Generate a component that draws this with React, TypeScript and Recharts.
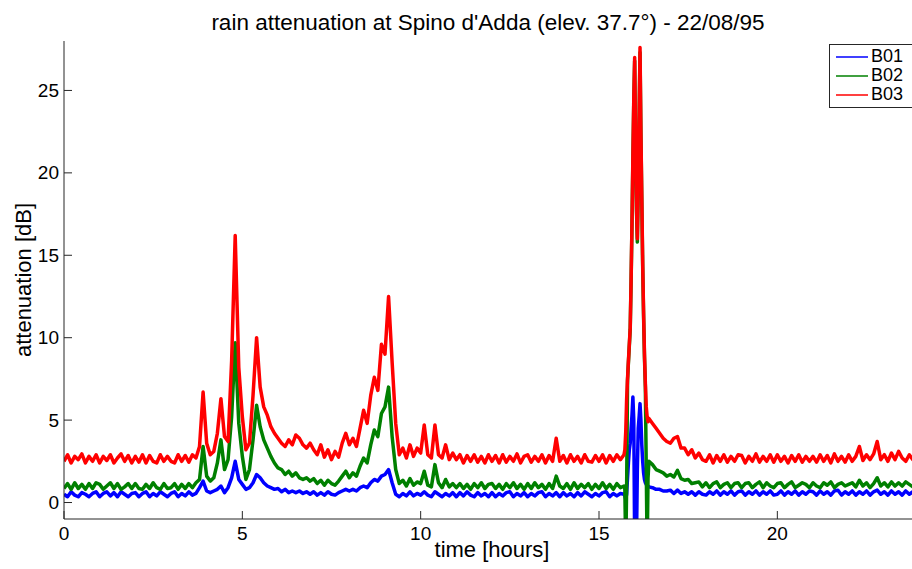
import React from 'react';
import { LineChart, Line, XAxis, YAxis, Legend } from 'recharts';

const FONT = '"Liberation Sans", Arial, Helvetica, sans-serif';
const AXIS = '#262626';

// one sample every 0.1 h (0 .. 24 h)
const TIME_GRID = Array.from({ length: 241 }, (_, i) => i / 10);

// B01 (blue)
const B01 = [
  0.5, 0.35, 0.65, 0.45, 0.35, 0.6, 0.5, 0.35, 0.55, 0.65,
  0.35, 0.55, 0.65, 0.4, 0.6, 0.35, 0.65, 0.5, 0.35, 0.55,
  0.6, 0.35, 0.55, 0.65, 0.35, 0.55, 0.4, 0.65, 0.5, 0.35,
  0.55, 0.65, 0.35, 0.55, 0.4, 0.65, 0.45, 0.55, 0.9, 1.3,
  0.7, 0.6, 0.7, 0.8, 1.0, 0.6, 0.9, 1.5, 2.5, 1.4,
  1.1, 0.8, 0.9, 1.2, 1.7, 1.5, 1.2, 1.0, 0.9, 0.8,
  0.85, 0.65, 0.8, 0.6, 0.7, 0.6, 0.7, 0.55, 0.65, 0.5,
  0.65, 0.45, 0.6, 0.45, 0.65, 0.5, 0.45, 0.6, 0.7, 0.8,
  0.7, 0.8, 0.7, 0.9, 1.0, 0.9, 1.2, 1.4, 1.3, 1.6,
  1.7, 2.0, 1.2, 0.5, 0.35, 0.55, 0.4, 0.65, 0.4, 0.55,
  0.45, 0.65, 0.45, 0.35, 0.65, 0.5, 0.35, 0.55, 0.4, 0.6,
  0.35, 0.6, 0.4, 0.65, 0.45, 0.35, 0.6, 0.4, 0.55, 0.35,
  0.6, 0.35, 0.55, 0.4, 0.6, 0.65, 0.35, 0.55, 0.4, 0.6,
  0.35, 0.55, 0.4, 0.6, 0.65, 0.35, 0.55, 0.4, 0.6, 0.35,
  0.6, 0.4, 0.55, 0.35, 0.6, 0.4, 0.65, 0.5, 0.35, 0.55,
  0.4, 0.6, 0.65, 0.35, 0.55, 0.4, 0.55, 0.5, 1.5, 4.5,
  -2.5, 4.5, 3.5, 1.2, 0.95, 0.9, 0.8, 0.8, 0.7, 0.7,
  0.75, 0.55, 0.75, 0.55, 0.65, 0.5, 0.65, 0.45, 0.65, 0.5,
  0.45, 0.65, 0.5, 0.7, 0.45, 0.65, 0.5, 0.7, 0.45, 0.65,
  0.7, 0.45, 0.65, 0.5, 0.7, 0.45, 0.65, 0.5, 0.7, 0.45,
  0.5, 0.7, 0.45, 0.65, 0.5, 0.7, 0.45, 0.65, 0.5, 0.7,
  0.65, 0.45, 0.7, 0.5, 0.65, 0.45, 0.7, 0.75, 0.45, 0.65,
  0.5, 0.7, 0.45, 0.65, 0.5, 0.7, 0.45, 0.65, 0.75, 0.5,
  0.65, 0.45, 0.7, 0.5, 0.65, 0.45, 0.7, 0.5, 0.65, 0.5,
  0.6,
];

// B02 (green)
const B02 = [
  0.85, 1.15, 0.8, 1.2, 0.85, 1.1, 0.8, 1.15, 0.85, 1.2,
  1.1, 0.8, 1.0, 1.2, 0.85, 1.15, 0.8, 0.95, 1.15, 0.85,
  1.15, 0.85, 0.8, 1.1, 0.85, 1.2, 0.9, 0.8, 1.15, 0.85,
  0.9, 1.15, 0.8, 1.1, 0.85, 1.15, 0.9, 1.2, 1.4, 3.4,
  1.6, 1.3, 1.5, 2.4, 3.8, 2.0, 2.6, 5.2, 9.7, 4.8,
  2.8, 1.4, 2.0, 3.8, 5.9, 4.6, 3.8, 3.3, 2.8, 2.4,
  2.1, 2.0, 1.7, 1.9, 1.6, 1.8, 1.5, 1.4, 1.5, 1.3,
  1.45, 1.15, 1.35, 1.05, 1.35, 1.15, 1.05, 1.3, 1.6, 1.9,
  1.5, 1.8, 1.6, 2.2, 2.7, 2.4, 3.5, 4.4, 4.0, 5.4,
  5.8, 7.0, 4.0, 2.0, 1.15, 1.35, 1.0, 1.45, 1.05, 1.25,
  1.15, 1.9, 1.05, 0.95, 2.3, 1.2, 0.9, 1.4, 0.95, 1.15,
  0.9, 1.15, 0.85, 1.1, 0.8, 1.15, 0.9, 1.2, 0.85, 1.1,
  1.15, 0.85, 1.1, 0.8, 1.15, 0.9, 1.2, 0.85, 1.1, 0.8,
  1.15, 0.85, 1.2, 0.9, 1.1, 0.8, 1.15, 0.85, 1.6, 1.0,
  0.85, 1.15, 0.8, 1.2, 0.85, 1.1, 0.9, 1.15, 0.8, 1.1,
  0.85, 1.2, 0.85, 1.1, 0.8, 1.15, 0.9, 1.0, 7.4, 13.4,
  26.8, 18.8, 18.3, 7.0, 2.5, 2.3, 2.0, 1.9, 1.8, 1.6,
  1.7, 1.55, 1.95, 1.45, 1.35, 1.4, 1.15, 1.2, 1.25, 0.95,
  1.2, 0.9, 1.15, 1.25, 0.9, 1.1, 1.2, 0.9, 1.15, 1.2,
  0.9, 1.15, 1.2, 0.9, 1.1, 1.25, 0.9, 1.2, 1.0, 0.9,
  1.15, 1.2, 0.9, 1.1, 1.25, 0.9, 1.05, 1.2, 1.1, 0.9,
  1.2, 1.0, 0.9, 1.2, 1.05, 1.25, 0.9, 1.1, 1.2, 1.0,
  1.1, 1.2, 0.95, 1.35, 1.0, 1.2, 0.9, 1.15, 1.5, 1.0,
  1.2, 0.95, 1.25, 1.0, 1.2, 1.0, 1.25, 1.1, 0.95, 1.2,
  1.05,
];

// B03 (red)
const B03 = [
  2.5, 2.9, 2.4, 2.8, 2.6, 2.95, 2.4, 2.8, 2.5, 2.9,
  2.4, 2.8, 2.55, 2.9, 2.4, 2.7, 2.95, 2.5, 2.85, 2.4,
  2.8, 2.45, 2.9, 2.4, 2.85, 2.5, 2.4, 2.9, 2.5, 2.8,
  2.5, 2.4, 2.9, 2.5, 2.85, 2.45, 2.9, 2.7, 3.4, 6.7,
  3.6, 2.9, 3.1, 4.2, 6.3, 4.0, 3.7, 8.6, 16.2, 8.2,
  5.2, 3.2, 3.6, 6.5, 10.0, 7.0, 5.8, 5.3, 4.6, 4.2,
  3.9, 3.6, 3.4, 3.8, 3.5, 4.1, 3.9, 3.5, 3.3, 3.6,
  3.2, 2.9, 3.5, 2.75, 3.2, 2.6, 3.1, 2.75, 3.6, 4.2,
  3.5, 3.9, 3.4, 4.5, 5.6, 4.8, 6.5, 7.6, 6.8, 9.6,
  9.0, 12.5, 8.5, 4.8, 2.9, 3.3, 2.7, 3.5, 2.8, 3.3,
  3.0, 4.7, 2.9, 2.7, 4.7, 2.9, 2.7, 3.5, 2.6, 3.0,
  2.6, 2.9, 2.4, 2.85, 2.5, 2.9, 2.45, 2.8, 2.4, 2.9,
  2.5, 2.85, 2.4, 2.9, 2.45, 2.8, 2.5, 2.95, 2.4, 2.8,
  2.9, 2.45, 2.8, 2.5, 2.9, 2.4, 2.85, 2.5, 3.9, 2.5,
  2.85, 2.4, 2.9, 2.5, 2.8, 2.4, 2.9, 2.5, 2.45, 2.85,
  2.5, 2.9, 2.4, 2.85, 2.5, 2.9, 2.6, 2.9, 7.5, 13.5,
  27.0, 19.0, 18.5, 7.2, 5.1, 4.8, 4.5, 4.2, 3.9, 3.7,
  3.6, 3.9, 4.0, 3.3, 3.3, 2.9, 3.2, 2.7, 3.0, 2.6,
  2.5, 2.9, 2.4, 2.85, 2.5, 2.9, 2.45, 2.8, 2.5, 2.9,
  2.85, 2.4, 2.8, 2.5, 2.95, 2.45, 2.8, 2.5, 2.9, 2.45,
  2.9, 2.5, 2.8, 2.4, 2.85, 2.5, 2.9, 2.45, 2.8, 2.5,
  2.8, 2.45, 2.9, 2.5, 2.85, 2.4, 2.95, 2.5, 2.8, 2.45,
  2.9, 2.5, 2.8, 3.4, 2.55, 2.9, 2.6, 2.95, 3.7, 2.6,
  2.9, 2.5, 3.0, 2.6, 3.1, 2.7, 2.5, 2.9, 2.6, 2.95,
  2.7,
];

// extra samples inside the 16 h peak
const DETAIL_TIME = [
  15.725, 15.75, 15.775, 15.825, 15.85, 15.875, 15.925, 15.95, 15.975,
  16.025, 16.05, 16.075, 16.125, 16.15, 16.175, 16.225, 16.25, 16.275,
  16.325, 16.35, 16.375,
];
const B01_DETAIL = [0.4, 0.2, 0.5, 2.4, 3.2, 3.6, 5.3, 6.4, 5.0, -3.0, -2.5, 2.0, 5.2, 6.0, 5.0, 2.5, 1.8, 1.4, 1.1, 1.0, 1.0];
const B02_DETAIL = [0.8, -3.0, 1.0, 8.5, 9.5, 10.5, 16.9, 20.8, 24.3, 21.8, 17.8, 15.8, 23.3, 27.3, 22.3, 14.3, 11.3, 8.8, 2.0, -3.0, 1.5];
const B03_DETAIL = [3.2, 4.3, 6.3, 8.6, 9.6, 10.6, 17.0, 21.0, 24.5, 22.0, 18.0, 16.0, 23.5, 27.6, 22.5, 14.5, 11.5, 9.0, 5.8, 5.2, 4.9];

const SERIES = ['B01', 'B02', 'B03'];
const COLORS = ['#0000ff', '#008000', '#ff0000'];
const X_TICKS = [0, 5, 10, 15, 20];
const Y_TICKS = [0, 5, 10, 15, 20, 25];

const data = [
  ...TIME_GRID.map((t, i) => ({ t, B01: B01[i], B02: B02[i], B03: B03[i] })),
  ...DETAIL_TIME.map((t, i) => ({ t, B01: B01_DETAIL[i], B02: B02_DETAIL[i], B03: B03_DETAIL[i] })),
].sort((a, b) => a.t - b.t);

const LeftTick = ({ x, y, payload }: any) => (
  <g>
    <line x1={x} y1={y} x2={x + 8} y2={y} stroke={AXIS} />
    <text x={x - 5} y={y} textAnchor="end" dominantBaseline="central" fontSize={19} fontFamily={FONT} fill="#000">
      {payload.value}
    </text>
  </g>
);

const RightTick = ({ x, y }: any) => <line x1={x} y1={y} x2={x - 8} y2={y} stroke={AXIS} />;

const BottomTick = ({ x, y, payload }: any) => (
  <g>
    <line x1={x} y1={y} x2={x} y2={y - 8} stroke={AXIS} />
    <text x={x} y={y + 14} textAnchor="middle" dominantBaseline="central" fontSize={19} fontFamily={FONT} fill="#000">
      {payload.value}
    </text>
  </g>
);

const TopTick = ({ x, y }: any) => <line x1={x} y1={y} x2={x} y2={y + 8} stroke={AXIS} />;

const LegendBox = () => (
  <div
    style={{
      background: '#fff',
      border: `1px solid ${AXIS}`,
      padding: '2px 30px 3px 6px',
      fontFamily: FONT,
      fontSize: 18,
      color: '#000',
    }}
  >
    {SERIES.map((name, i) => (
      <div key={name} style={{ display: 'flex', alignItems: 'center', height: 19 }}>
        <svg width={32} height={4}>
          <line x1={0} y1={2} x2={32} y2={2} stroke={COLORS[i]} strokeWidth={1.5} />
        </svg>
        <span style={{ marginLeft: 3 }}>{name}</span>
      </div>
    ))}
  </div>
);

export default function App() {
  return (
    <div style={{ position: 'absolute', left: 0, top: 0, width: 912, height: 569, overflow: 'hidden', background: '#fff' }}>
      <div
        style={{
          position: 'absolute',
          left: 488,
          top: 10,
          transform: 'translateX(-50%)',
          whiteSpace: 'nowrap',
          fontFamily: FONT,
          fontSize: 22.5,
          color: '#000',
        }}
      >
        rain attenuation at Spino d'Adda (elev. 37.7°) - 22/08/95
      </div>
      <LineChart width={940} height={569} data={data} margin={{ top: 41, right: 20, bottom: 0, left: 0 }}>
        <XAxis
          dataKey="t"
          type="number"
          domain={[0, 24]}
          ticks={X_TICKS}
          allowDataOverflow
          height={50}
          tickSize={0}
          tickMargin={0}
          tickLine={false}
          axisLine={{ stroke: AXIS }}
          tick={<BottomTick />}
          label={{ value: 'time [hours]', position: 'center', dy: 5, style: { fontSize: 22, fontFamily: FONT, fill: '#000' } }}
        />
        <XAxis
          xAxisId="top"
          orientation="top"
          dataKey="t"
          type="number"
          domain={[0, 24]}
          ticks={X_TICKS}
          allowDataOverflow
          height={0}
          tickSize={0}
          tickMargin={0}
          tickLine={false}
          axisLine={{ stroke: AXIS }}
          tick={<TopTick />}
        />
        <YAxis
          type="number"
          domain={[-1, 28]}
          ticks={Y_TICKS}
          allowDataOverflow
          width={64}
          tickSize={0}
          tickMargin={0}
          tickLine={false}
          axisLine={{ stroke: AXIS }}
          tick={<LeftTick />}
          label={{ value: 'attenuation [dB]', angle: -90, position: 'center', dx: -9, style: { fontSize: 22, fontFamily: FONT, fill: '#000' } }}
        />
        <YAxis
          yAxisId="right"
          orientation="right"
          type="number"
          domain={[-1, 28]}
          ticks={Y_TICKS}
          allowDataOverflow
          width={0}
          tickSize={0}
          tickMargin={0}
          tickLine={false}
          axisLine={{ stroke: AXIS }}
          tick={<RightTick />}
        />
        {SERIES.map((name, i) => (
          <Line
            key={name}
            dataKey={name}
            name={name}
            type="linear"
            stroke={COLORS[i]}
            strokeWidth={3.5}
            strokeLinejoin="round"
            dot={false}
            activeDot={false}
            isAnimationActive={false}
          />
        ))}
        <Legend
          layout="vertical"
          align="center"
          verticalAlign="middle"
          content={<LegendBox />}
          wrapperStyle={{ left: 829, top: 44, width: 110 }}
        />
      </LineChart>
    </div>
  );
}
